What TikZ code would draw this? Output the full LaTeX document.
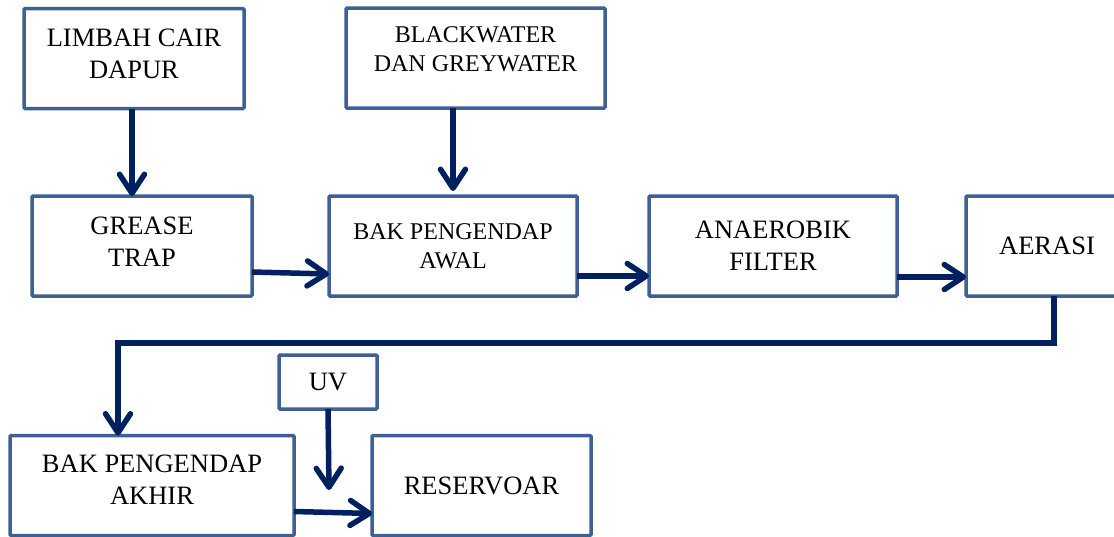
\documentclass[tikz,border=0pt]{standalone}
\usepackage{fontspec}
\setmainfont{Liberation Serif}
\usetikzlibrary{calc,arrows.meta}
\definecolor{boxblue}{RGB}{62,96,146}
\definecolor{flowblue}{RGB}{0,32,96}
\tikzset{
  unit/.style={ % image of one treatment unit
    draw=boxblue, line width=3.5pt, rectangle,
    rounded corners=1pt, minimum height=100pt,
    align=center, text=black, outer sep=0pt,
    font=\fontsize{26.5}{32}\selectfont
  },
  smallunit/.style={ % same box, smaller lettering
    unit, font=\fontsize{24}{29}\selectfont
  },
  flow/.style={ % image of a flow arrow
    draw=flowblue, line width=5.5pt,
    -{Straight Barb[length=19pt,width=25pt,round]}
  }
}

\begin{document}
\begin{tikzpicture}[x=1pt, y=-1pt]
      \useasboundingbox (0,0) rectangle (1114,536);
      \clip (0,0) rectangle (1114,536);

      \node[unit, minimum width=220pt] (limbah) at (134,58.5) {LIMBAH CAIR\\DAPUR\\[-22pt]};
      \node[smallunit, minimum width=259pt] (black) at (475.5,58) {BLACKWATER\\DAN GREYWATER\\[-12pt]};
      \node[unit, minimum width=220pt] (grease) at (142,246) {GREASE\\TRAP\\[-24pt]};
      \node[smallunit, minimum width=248pt] (awal) at (453,246) {BAK PENGENDAP\\AWAL};
      \node[unit, minimum width=248pt] (anaer) at (773,246) {ANAEROBIK\\FILTER};
      \node[unit, minimum width=162pt] (aerasi) at (1047,246) {AERASI};
      \node[unit, minimum width=98pt, minimum height=54pt] (uv) at (328,382) {UV};
      \node[unit, minimum width=284pt] (akhir) at (152,485.5) {BAK PENGENDAP\\AKHIR\\[-20pt]};
      \node[unit, minimum width=219pt] (reser) at (481.5,485.5) {RESERVOAR};

      \coordinate (turn_a) at (1054,343);
      \coordinate (turn_b) at (118,343);
      \coordinate (uv_end) at (329,490);

      \draw[flow] (limbah.south -| 132,0) -- (grease.north -| 132,0);
      \draw[flow, shorten >=5pt] (black.south -| awal.north) -- (awal.north);
      \draw[flow] ([yshift=-26pt]grease.east) -- ([yshift=-28pt]awal.west);
      \draw[flow] ([yshift=-30pt]awal.east) -- ([yshift=-30pt]anaer.west);
      \draw[flow] ([yshift=-31pt]anaer.east) -- ([yshift=-31pt]aerasi.west);
      \draw[flow] (aerasi.south -| turn_a) -- (turn_a) -- (turn_b) -- (turn_b |- akhir.north);
      \draw[flow] (uv.south) -- (uv_end);
      \draw[flow] ([yshift=-26pt]akhir.east) -- ([yshift=-28pt]reser.west);
\end{tikzpicture}
\end{document}
